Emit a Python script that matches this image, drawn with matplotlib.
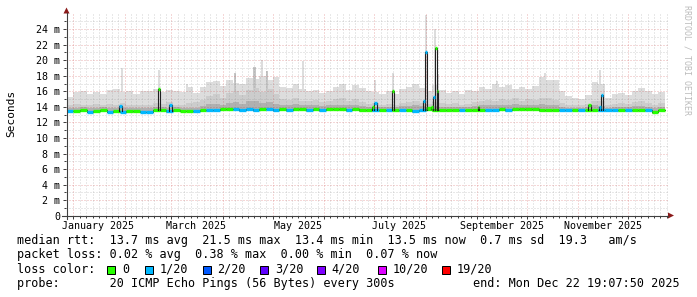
import numpy as np
import matplotlib
matplotlib.use('Agg')
import matplotlib.pyplot as plt
from matplotlib.patches import Polygon, Rectangle
from matplotlib.lines import Line2D

W, H = 697, 297

# days counted from 2025-01-01, one value per 4-day bin starting at day -4
med = [13.45, 13.50, 13.55, 13.40, 13.50, 13.55, 13.40, 13.50, 13.40, 13.50,
       13.45, 13.35, 13.35, 13.60, 13.60, 13.45, 13.55, 13.50, 13.50, 13.45,
       13.55, 13.65, 13.65, 13.75, 13.75, 13.70, 13.65, 13.70, 13.65, 13.75,
       13.70, 13.65, 13.70, 13.65, 13.70, 13.75, 13.65, 13.70, 13.60, 13.75,
       13.75, 13.70, 13.60, 13.70, 13.65, 13.60, 13.55, 13.60, 13.55, 13.60,
       13.55, 13.60, 13.50, 13.55, 13.70, 13.65, 13.60, 13.60, 13.55, 13.55,
       13.60, 13.60, 13.55, 13.65, 13.65, 13.70, 13.65, 13.70, 13.70, 13.70,
       13.70, 13.65, 13.60, 13.60, 13.55, 13.55, 13.60, 13.55, 13.60, 13.60,
       13.55, 13.55, 13.55, 13.60, 13.55, 13.60, 13.60, 13.55, 13.35, 13.55]
loss = [1, 0, 0, 1, 0, 0, 1, 0, 1, 0,
        0, 1, 1, 0, 0, 1, 0, 0, 0, 1,
        0, 1, 1, 0, 0, 1, 1, 1, 1, 0,
        1, 1, 0, 1, 0, 0, 1, 0, 1, 0,
        0, 0, 1, 0, 0, 0, 1, 0, 1, 0,
        1, 0, 1, 1, 0, 0, 0, 0, 0, 1,
        0, 0, 0, 1, 1, 0, 1, 0, 0, 0,
        0, 0, 0, 0, 1, 1, 0, 1, 0, 0,
        1, 1, 1, 0, 1, 0, 0, 1, 0, 0]
smoke_max = [15.3, 15.9, 16.1, 15.7, 15.9, 15.6, 16.2, 16.3, 15.9, 16.0,
             15.6, 16.1, 16.0, 16.3, 15.9, 16.2, 16.0, 15.9, 16.5, 15.8,
             16.6, 17.2, 17.3, 16.7, 17.4, 17.1, 17.0, 17.7, 17.6, 18.0,
             17.4, 17.8, 16.6, 16.4, 16.9, 16.3, 16.0, 16.2, 15.8, 16.1,
             16.6, 16.9, 16.2, 16.8, 16.4, 16.0, 15.9, 15.6, 16.0, 15.7,
             16.3, 16.6, 16.9, 16.4, 16.0, 16.8, 16.2, 15.8, 16.1, 15.6,
             16.2, 16.0, 16.5, 16.3, 16.9, 16.6, 16.8, 16.3, 16.6, 16.3,
             16.7, 17.9, 17.5, 17.4, 16.1, 15.4, 15.2, 15.0, 15.5, 17.2,
             17.0, 15.2, 15.6, 15.8, 15.5, 16.0, 16.4, 16.1, 15.6, 15.9]
smoke_mid = [14.3, 14.4, 14.3, 14.2, 14.4, 14.3, 14.4, 14.3, 14.5, 14.3,
             14.2, 14.3, 14.2, 14.5, 14.4, 14.6, 14.3, 14.2, 14.5, 14.6,
             14.9, 15.4, 15.6, 15.2, 15.8, 16.0, 15.5, 16.2, 16.4, 15.9,
             16.3, 15.7, 15.0, 14.9, 15.2, 14.8, 14.7, 14.9, 14.6, 14.8,
             15.0, 15.1, 14.8, 15.0, 14.6, 14.4, 14.5, 14.3, 14.4, 14.3,
             14.5, 14.6, 14.7, 14.5, 14.4, 14.6, 14.5, 14.4, 14.5, 14.3,
             14.4, 14.6, 14.8, 14.9, 14.7, 15.0, 14.9, 15.1, 14.8, 15.0,
             14.9, 15.2, 15.1, 14.9, 14.5, 14.3, 14.2, 14.2, 14.4, 14.8,
             14.7, 14.2, 14.4, 14.5, 14.4, 14.6, 14.7, 14.5, 14.3, 14.5]
smoke_dark = [13.9, 13.9, 14.0, 13.8, 13.9, 14.0, 13.8, 13.9, 13.9, 13.9,
              13.8, 13.8, 13.8, 14.0, 14.0, 13.9, 14.0, 13.9, 13.9, 13.9,
              14.1, 14.4, 14.4, 14.3, 14.5, 14.6, 14.4, 14.7, 14.8, 14.5,
              14.6, 14.4, 14.3, 14.2, 14.4, 14.3, 14.2, 14.3, 14.1, 14.2,
              14.3, 14.3, 14.2, 14.3, 14.1, 14.0, 14.0, 14.0, 14.0, 14.0,
              14.1, 14.1, 14.2, 14.1, 14.0, 14.1, 14.0, 14.0, 14.0, 14.0,
              14.0, 14.1, 14.2, 14.3, 14.2, 14.3, 14.2, 14.4, 14.2, 14.3,
              14.2, 14.4, 14.3, 14.2, 14.0, 13.9, 13.9, 13.9, 14.0, 14.2,
              14.1, 13.9, 14.0, 14.0, 14.0, 14.1, 14.1, 14.0, 13.8, 14.0]
smoke_min = [13.25, 13.30, 13.35, 13.20, 13.30, 13.35, 13.20, 13.30, 13.20, 13.30,
             13.25, 13.15, 13.15, 13.35, 13.40, 13.25, 13.35, 13.30, 13.30, 13.25,
             13.35, 13.40, 13.40, 13.50, 13.50, 13.45, 13.40, 13.45, 13.40, 13.50,
             13.45, 13.40, 13.45, 13.40, 13.45, 13.50, 13.40, 13.45, 13.35, 13.50,
             13.50, 13.45, 13.35, 13.45, 13.40, 13.35, 13.30, 13.35, 13.30, 13.35,
             13.30, 13.35, 13.25, 13.30, 13.45, 13.40, 13.35, 13.35, 13.30, 13.30,
             13.35, 13.35, 13.30, 13.40, 13.40, 13.45, 13.40, 13.45, 13.45, 13.45,
             13.45, 13.40, 13.35, 13.35, 13.30, 13.30, 13.35, 13.30, 13.35, 13.35,
             13.30, 13.30, 13.30, 13.35, 13.30, 13.35, 13.35, 13.30, 13.10, 13.30]

# narrow smoke peaks
peak_day = [29.5, 51.8, 68.6, 97.5, 109.0, 113.7, 116.7, 138.4, 181.7, 192.6,
            212.4, 217.8, 219.7, 255.0, 284.0, 317.0]
peak_val = [19.0, 18.7, 17.0, 18.3, 19.1, 20.0, 18.6, 19.9, 17.4, 18.3,
            25.8, 24.0, 18.2, 17.3, 18.4, 18.7]
peak_shade = ['light', 'light', 'light', 'mid', 'mid', 'light', 'mid', 'light',
              'light', 'light', 'light', 'light', 'light', 'light', 'light', 'light']

# median rtt spikes
spike_start = [27.7, 50.9, 57.8, 180.0, 181.1, 191.7, 210.6, 211.5, 213.0, 215.0,
               216.6, 217.5, 218.7, 243.4, 309.5, 316.5, 317.4]
spike_end = [29.5, 52.3, 59.3, 181.1, 183.0, 193.2, 211.5, 212.7, 215.0, 216.6,
             217.5, 218.7, 219.7, 244.3, 311.5, 317.4, 318.9]
spike_val = [14.15, 16.35, 14.3, 14.0, 14.5, 16.1, 14.8, 21.0, 13.8, 14.0,
             15.3, 21.6, 16.1, 13.95, 14.3, 14.0, 15.55]
spike_loss = [1, 0, 1, 0, 1, 0, 1, 1, 0, 0, 1, 0, 0, 0, 0, 1, 1]

loss_labels = ['0', '1/20', '2/20', '3/20', '4/20', '10/20', '19/20']
loss_colors = ['#26ff00', '#00b8ff', '#0059ff', '#5e00ff', '#7e00ff', '#dd00ff', '#ff0000']

month_labels = ['January 2025', 'March 2025', 'May 2025', 'July 2025',
                'September 2025', 'November 2025']
month_label_day = [15, 74, 135, 196, 258, 319]

y_ticks = [0, 2, 4, 6, 8, 10, 12, 14, 16, 18, 20, 22, 24]
y_labels = ['0', '2 m', '4 m', '6 m', '8 m', '10 m', '12 m', '14 m', '16 m',
            '18 m', '20 m', '22 m', '24 m']

legend_rtt = 'median rtt:  13.7 ms avg  21.5 ms max  13.4 ms min  13.5 ms now  0.7 ms sd  19.3   am/s'
legend_loss = 'packet loss: 0.02 % avg  0.38 % max  0.00 % min  0.07 % now'
legend_probe = 'probe:       20 ICMP Echo Pings (56 Bytes) every 300s'
legend_end = 'end: Mon Dec 22 19:07:50 2025'

##### plot
plt.rcParams['font.family'] = 'DejaVu Sans Mono'
fig = plt.figure(figsize=(W / 100, H / 100), dpi=100)
ax = fig.add_axes([66 / W, (H - 215.7) / H, 602 / W, 202.7 / H])

bins = np.arange(-4, 356, 4)
edges = np.append(bins, 356)


def stepfill(lo, hi, color, z):
    ax.fill_between(edges, lo + [lo[-1]], hi + [hi[-1]], step='post',
                    color=color, lw=0, zorder=z)


stepfill(smoke_min, smoke_max, '#dddddd', 1)
shade = {'light': '#dddddd', 'mid': '#c6c6c6'}
ax.bar(peak_day, np.array(peak_val) - 13.5, bottom=13.5, width=1.3,
       color=[shade[s] for s in peak_shade], lw=0, zorder=1.2)
stepfill(smoke_min, smoke_mid, '#cccccc', 1.4)
stepfill(smoke_min, smoke_dark, '#b0b0b0', 1.6)

# median line: thin dark line plus thick loss coloured segments
ax.plot(edges, med + [med[-1]], drawstyle='steps-post', color='#202020',
        lw=0.7, zorder=4)
ax.hlines(med, bins, bins + 4, colors=[loss_colors[l] for l in loss],
          lw=2.4, zorder=5)
for s, e, v, l in zip(spike_start, spike_end, spike_val, spike_loss):
    base = med[int((s + 4) // 4)]
    ax.plot([s, s, e, e], [base, v, v, base], color='#202020', lw=0.8, zorder=6)
    ax.hlines(v, s, e, colors=loss_colors[l], lw=2.4, zorder=7)

# grid
months = np.arange('2024-12', '2026-02', dtype='datetime64[M]')
mstart = (months.astype('datetime64[D]') - np.datetime64('2025-01-01')).astype(int)
minor_x = []
for a, b in zip(mstart[:-1], mstart[1:]):
    for j in range(1, 8):
        minor_x.append(a + (b - a) * j / 8)
ax.set_xticks(mstart)
ax.set_xticks(minor_x, minor=True)
ax.set_xticklabels([])
ax.set_yticks(y_ticks)
ax.set_yticks(np.arange(1, 26, 2), minor=True)
ax.set_yticklabels(y_labels)
ax.set_xlim(-4.4, 357.9)
ax.set_ylim(0, 26.08)
ax.set_axisbelow(False)
ax.grid(which='major', color='#c83232', alpha=0.38, lw=0.72, linestyle=(0, (1, 2)))
ax.grid(which='minor', color='#8c8c8c', alpha=0.38, lw=0.72, linestyle=(0, (1, 2)))
ax.tick_params(which='major', direction='out', length=2.2, width=0.72,
               color='#404040', labelsize=7.2, pad=2.0)
ax.tick_params(which='minor', direction='out', length=1.4, width=0.72,
               color='#404040')
for sp in ax.spines.values():
    sp.set_visible(False)

for d, t in zip(month_label_day, month_labels):
    ax.text(d, -0.049, t, transform=ax.get_xaxis_transform(), ha='center',
            va='center', fontsize=7.2)


def fx(x):
    return x / W


def fy(y):
    return 1 - y / H


# axes with arrows
fig.add_artist(Line2D([fx(62), fx(668)], [fy(215.5), fy(215.5)], color='#404040', lw=0.8))
fig.add_artist(Line2D([fx(66.5), fx(66.5)], [fy(219), fy(13)], color='#404040', lw=0.8))
fig.add_artist(Polygon([(fx(668), fy(212.5)), (fx(668), fy(218.5)), (fx(674), fy(215.5))],
                       closed=True, color='#8b1a1a', lw=0))
fig.add_artist(Polygon([(fx(63.5), fy(13.5)), (fx(69.5), fy(13.5)), (fx(66.5), fy(7.5))],
                       closed=True, color='#8b1a1a', lw=0))

fig.text(fx(11), fy(113), 'Seconds', rotation=90, ha='center', va='center', fontsize=8)
fig.text(fx(687), fy(60), 'RRDTOOL / TOBI OETIKER', rotation=270, ha='center',
         va='center', fontsize=5.95, color='#bbbbbb')

# legend
fs = 8.45
fig.text(fx(17), fy(244), legend_rtt, fontsize=fs, va='baseline')
fig.text(fx(17), fy(258.3), legend_loss, fontsize=fs, va='baseline')
fig.text(fx(17), fy(272.6), 'loss color:', fontsize=fs, va='baseline')
box_x = [107.3, 145, 202.7, 260, 316.7, 378, 441.7]
for bx, lab, col in zip(box_x, loss_labels, loss_colors):
    fig.add_artist(Rectangle((fx(bx), fy(273.5)), 8 / W, 8 / H, facecolor=col,
                             edgecolor='black', lw=0.72))
    fig.text(fx(bx + 14.8), fy(272.6), lab, fontsize=fs, va='baseline')
fig.text(fx(17), fy(286.9), legend_probe, fontsize=fs, va='baseline')
fig.text(fx(680), fy(286.9), legend_end, fontsize=fs, va='baseline', ha='right')

plt.savefig('out.png', dpi=100)
